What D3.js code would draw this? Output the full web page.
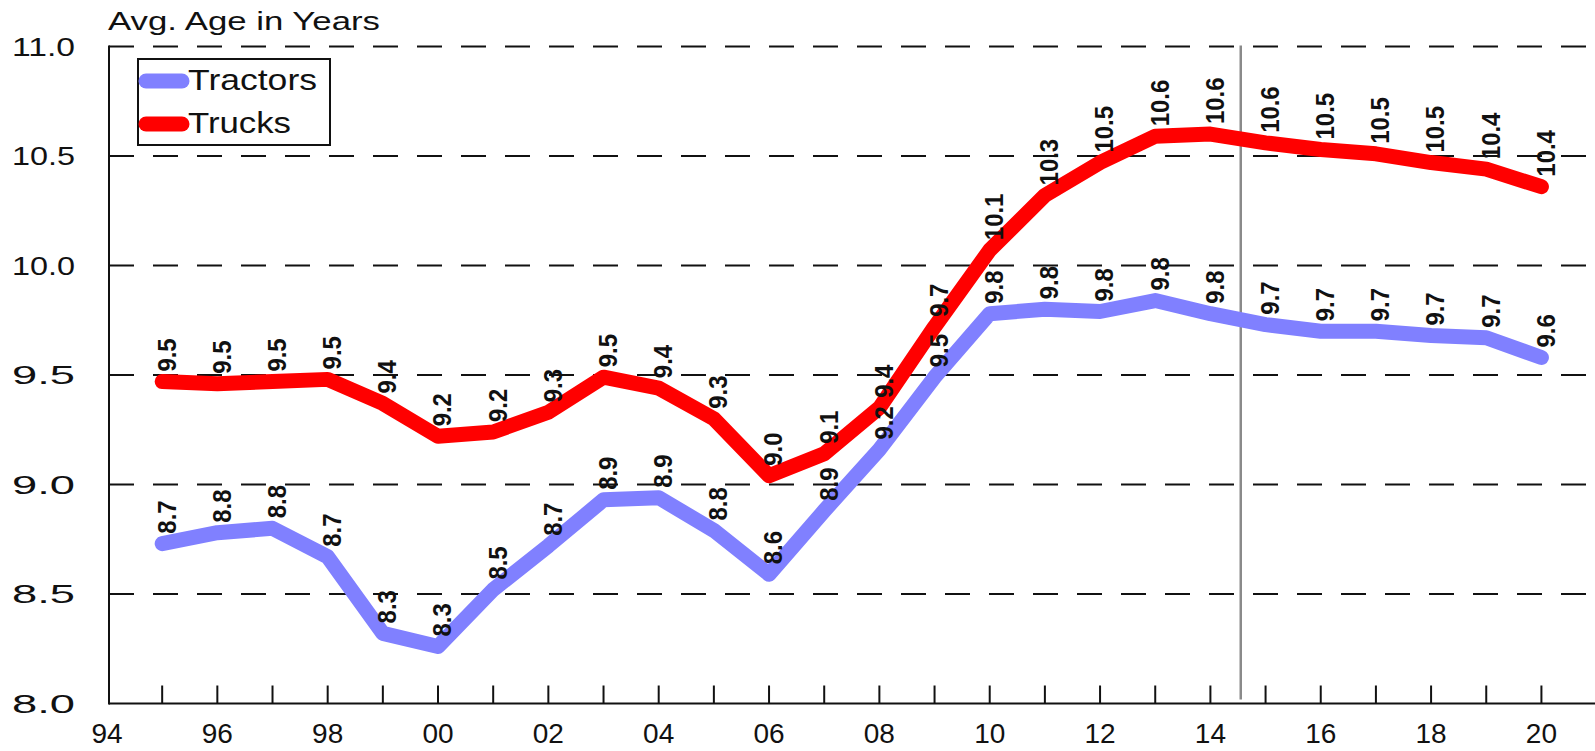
<!DOCTYPE html>
<html>
<head>
<meta charset="utf-8">
<script src="https://cdn.jsdelivr.net/npm/d3@7"></script>
<style>
  body { margin: 0; background: #fff; }
  svg { display: block; font-family: "Liberation Sans", Arial, sans-serif; }
</style>
</head>
<body>
<svg id="chart" width="1595" height="751"></svg>
<script>
// Average age of the fleet, 1995-2020
const years = d3.range(1995, 2021);
const tractors = [8.73, 8.78, 8.80, 8.67, 8.32, 8.26, 8.52, 8.72, 8.93, 8.94, 8.79, 8.59, 8.88,
                  9.16, 9.49, 9.78, 9.80, 9.79, 9.84, 9.78, 9.73, 9.70, 9.70, 9.68, 9.67, 9.58];
const trucks = [9.47, 9.46, 9.47, 9.48, 9.37, 9.22, 9.24, 9.33, 9.49, 9.44, 9.30, 9.04, 9.14,
                9.35, 9.72, 10.07, 10.32, 10.47, 10.59, 10.60, 10.56, 10.53, 10.51, 10.47, 10.44, 10.36];
const tractorLabels = ['8.7', '8.8', '8.8', '8.7', '8.3', '8.3', '8.5', '8.7', '8.9', '8.9', '8.8', '8.6', '8.9',
                       '9.2', '9.5', '9.8', '9.8', '9.8', '9.8', '9.8', '9.7', '9.7', '9.7', '9.7', '9.7', '9.6'];
const truckLabels = ['9.5', '9.5', '9.5', '9.5', '9.4', '9.2', '9.2', '9.3', '9.5', '9.4', '9.3', '9.0', '9.1',
                     '9.4', '9.7', '10.1', '10.3', '10.5', '10.6', '10.6', '10.6', '10.5', '10.5', '10.5', '10.4', '10.4'];
const yTicks = [8.0, 8.5, 9.0, 9.5, 10.0, 10.5, 11.0];
const xLabelYears = d3.range(1994, 2021, 2);
const forecastStart = 2014.55;

const series = [
    { name: 'Tractors', values: tractors, labels: tractorLabels, color: '#8080ff' },
    { name: 'Trucks', values: trucks, labels: truckLabels, color: '#ff0000' }
];

const svg = d3.select('#chart');
const axisLeft = 109, plotTop = 46.5, plotBottom = 703.5;

const x = d3.scaleLinear().domain([1994, 2021]).range([107, 107 + 27 * 55.17]);
const y = d3.scaleLinear().domain([8, 11]).range([plotBottom, plotTop]);

// dashed grid lines
svg.append('g')
    .selectAll('line')
    .data(yTicks.filter(d => d > 8))
    .join('line')
    .attr('x1', axisLeft).attr('x2', 1595)
    .attr('y1', d => y(d)).attr('y2', d => y(d))
    .attr('stroke', '#111')
    .attr('stroke-width', 2)
    .attr('stroke-dasharray', '25,19');

// y tick labels
svg.append('g')
    .selectAll('text')
    .data(yTicks)
    .join('text')
    .attr('x', 75)
    .attr('y', d => y(d))
    .attr('dy', '0.36em')
    .attr('text-anchor', 'end')
    .attr('font-size', 26)
    .attr('textLength', 63)
    .attr('lengthAdjust', 'spacingAndGlyphs')
    .attr('fill', '#111')
    .text(d => d.toFixed(1));

// title
svg.append('text')
    .attr('x', 108).attr('y', 30)
    .attr('font-size', 25)
    .attr('textLength', 272)
    .attr('lengthAdjust', 'spacingAndGlyphs')
    .attr('fill', '#111')
    .text('Avg. Age in Years');

// x axis with inward yearly ticks
const xAxis = svg.append('g');
xAxis.append('line')
    .attr('x1', axisLeft).attr('x2', 1595)
    .attr('y1', plotBottom).attr('y2', plotBottom)
    .attr('stroke', '#111').attr('stroke-width', 2);
xAxis.selectAll('line.tick')
    .data(d3.range(1995, 2021))
    .join('line')
    .attr('class', 'tick')
    .attr('x1', d => x(d)).attr('x2', d => x(d))
    .attr('y1', plotBottom).attr('y2', plotBottom - 18)
    .attr('stroke', '#111').attr('stroke-width', 2);
xAxis.selectAll('text')
    .data(xLabelYears)
    .join('text')
    .attr('x', d => x(d))
    .attr('y', 743)
    .attr('text-anchor', 'middle')
    .attr('font-size', 28)
    .attr('fill', '#111')
    .text(d => String(d % 100).padStart(2, '0'));

// y axis line
svg.append('line')
    .attr('x1', axisLeft).attr('x2', axisLeft)
    .attr('y1', plotTop - 1).attr('y2', plotBottom + 1)
    .attr('stroke', '#111').attr('stroke-width', 2);

// forecast divider
svg.append('line')
    .attr('x1', x(forecastStart)).attr('x2', x(forecastStart))
    .attr('y1', plotTop - 1).attr('y2', plotBottom - 4)
    .attr('stroke', '#8a8a8a').attr('stroke-width', 2.5);

// lines
const line = d3.line()
    .x((d, i) => x(years[i]))
    .y(d => y(d));

series.forEach(s => {
    svg.append('path')
        .datum(s.values)
        .attr('d', line)
        .attr('fill', 'none')
        .attr('stroke', s.color)
        .attr('stroke-width', 15)
        .attr('stroke-linecap', 'round')
        .attr('stroke-linejoin', 'round');
});

// value labels, rotated
series.forEach(s => {
    svg.append('g')
        .selectAll('text')
        .data(s.values)
        .join('text')
        .attr('transform', (d, i) => `translate(${x(years[i]) + 4},${y(d) - 10}) rotate(-90) scale(0.92,1)`)
        .attr('dy', '0.36em')
        .attr('font-size', 26)
        .attr('font-weight', 'bold')
        .attr('fill', '#111')
        .text((d, i) => s.labels[i]);
});

// legend
const legend = svg.append('g');
legend.append('rect')
    .attr('x', 138).attr('y', 59)
    .attr('width', 192).attr('height', 86)
    .attr('fill', '#fff')
    .attr('stroke', '#111').attr('stroke-width', 2);
series.forEach((s, i) => {
    const ly = 81 + i * 43;
    legend.append('line')
        .attr('x1', 146).attr('x2', 182)
        .attr('y1', ly).attr('y2', ly)
        .attr('stroke', s.color)
        .attr('stroke-width', 15)
        .attr('stroke-linecap', 'round');
    legend.append('text')
        .attr('x', 188).attr('y', ly + 9)
        .attr('font-size', 30)
        .attr('textLength', s.name === 'Tractors' ? 129 : 103)
        .attr('lengthAdjust', 'spacingAndGlyphs')
        .attr('fill', '#111')
        .text(s.name);
});
</script>
</body>
</html>
